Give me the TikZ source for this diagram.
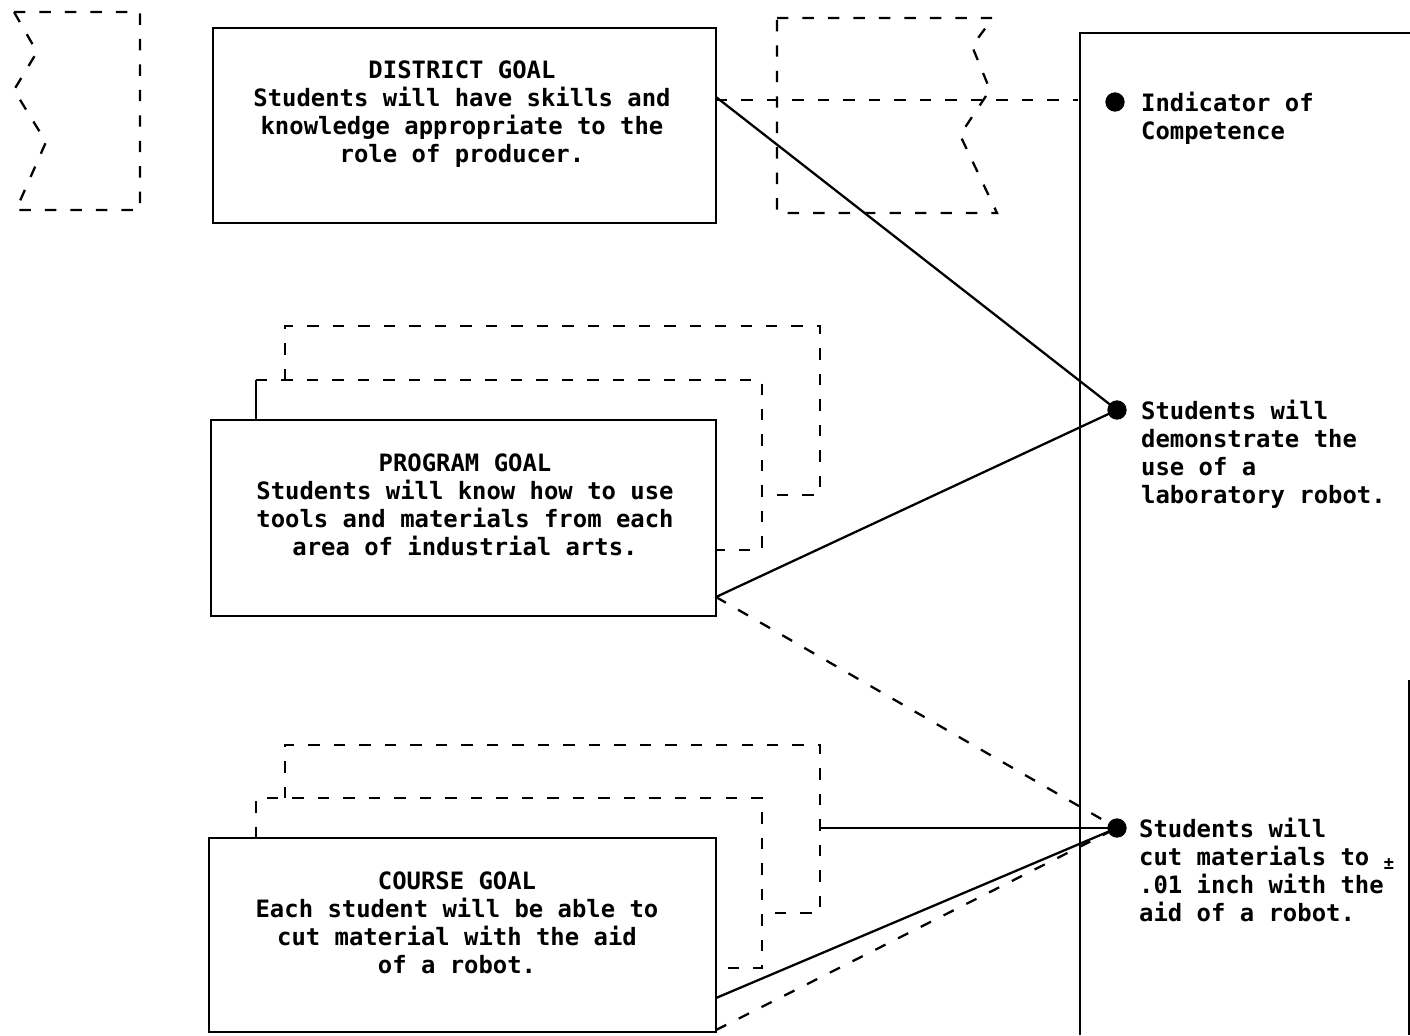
\documentclass[tikz,border=0pt]{standalone}
\usepackage{fontspec}
\setmonofont{DejaVu Sans Mono}
\usetikzlibrary{positioning}

\begin{document}
\begin{tikzpicture}[x=0.02cm,y=-0.02cm,line width=1.3pt,
    goal/.style={draw,rectangle,inner sep=0pt},
    goaltext/.style={align=center,anchor=north,inner sep=0pt},
    ictext/.style={align=left,anchor=north west,inner sep=0pt},
    dot/.style={circle,fill,inner sep=0pt,minimum size=11pt},
    dsh/.style={dash pattern=on 6.5pt off 8pt},
    font=\ttfamily\bfseries\fontsize{13.6}{15.9}\selectfont]
      \useasboundingbox (0,0) rectangle (1410,1035);

      % ribbons
      \draw[dsh] (14,12) -- (140,12) -- (140,210) -- (16,210) -- (46,142)
            -- (14,90) -- (37,52) -- cycle;
      \draw[dsh] (777,18) -- (993,18) -- (972,46) -- (990,90) -- (960,135)
            -- (997,213) -- (777,213) -- cycle;

      % goal boxes
      \node[goal,minimum width=10.06cm,minimum height=3.9cm] (district)
            at (464.5,125.5) {};
      \node[goal,minimum width=10.1cm,minimum height=3.92cm] (program)
            at (463.5,518) {};
      \node[goal,minimum width=10.14cm,minimum height=3.88cm] (course)
            at (462.5,935) {};

      % stacked goals behind
      \draw (256,420) -- (256,380);
      \draw[dsh] (256,380) -- (762,380) -- (762,550) -- (716,550);
      \draw[dsh] (285,380) -- (285,326) -- (820,326) -- (820,495) -- (762,495);
      \draw[dsh] (256,838) -- (256,798) -- (762,798) -- (762,968) -- (716,968);
      \draw[dsh] (285,798) -- (285,745) -- (820,745) -- (820,913) -- (762,913);

      \node[goaltext] (districttext) at (462,60) {DISTRICT GOAL\\
            Students will have skills and\\
            knowledge appropriate to the\\
            role of producer.};
      \node[goaltext] (programtext) at (465,453) {PROGRAM GOAL\\
            Students will know how to use\\
            tools and materials from each\\
            area of industrial arts.};
      \node[goaltext] (coursetext) at (457,871) {COURSE GOAL\\
            Each student will be able to\\
            cut material with the aid\\
            of a robot.};

      % indicator panel
      \draw (1080,1035) -- (1080,33) -- (1410,33);
      \draw (1409,680) -- (1409,1035);

      \node[dot] (b1) at (1115,102) {};
      \node[dot] (b2) at (1117,410) {};
      \node[dot] (b3) at (1117,828) {};
      \node[ictext] (ic1) at (1140,91) {Indicator of\\Competence};
      \node[ictext] (ic2) at (1140,399) {Students will\\demonstrate the\\
            use of a\\laboratory robot.};
      \node[ictext] (ic3) at (1138,817) {Students will\\
            cut materials to \raisebox{-0.3ex}{\fontsize{10}{10}\selectfont±}\\
            .01 inch with the\\aid of a robot.};

      % links
      \coordinate (d1) at (716,100);
      \coordinate (d2) at (1078,100);
      \coordinate (p1) at (716,597);
      \coordinate (c1) at (716,998);
      \coordinate (c2) at (716,1030);
      \coordinate (c3) at (820,828);
      \draw[dsh] (d1) -- (d2);
      \draw (716,97) -- (b2.center);
      \draw (p1) -- (b2.center);
      \draw[dsh] (p1) -- (b3.center);
      \draw (c3) -- (b3.center);
      \draw (c1) -- (b3.center);
      \draw[dsh] (c2) -- (b3.center);
\end{tikzpicture}
\end{document}
